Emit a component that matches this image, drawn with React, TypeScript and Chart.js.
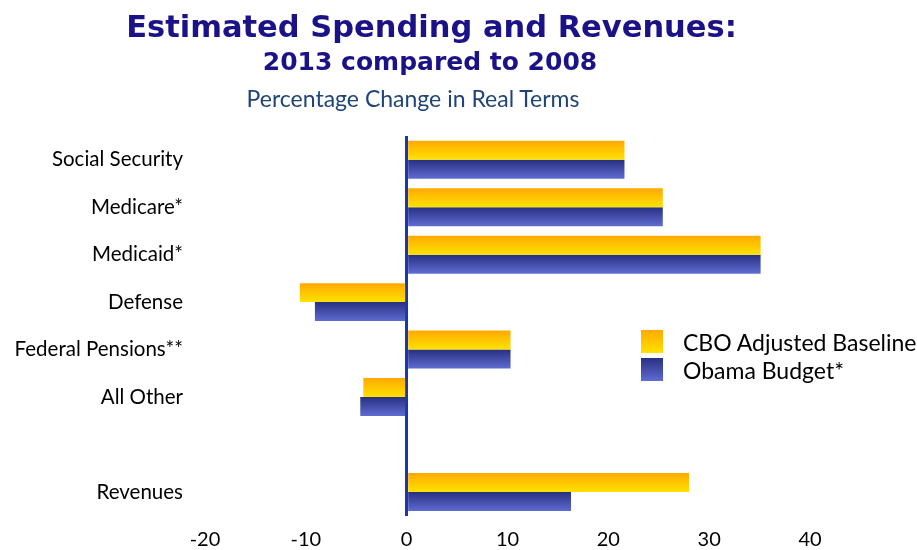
import React, { useEffect, useRef } from "react";
import { Chart, registerables } from "chart.js";

Chart.register(...registerables);

const categories = [
  "Social Security",
  "Medicare*",
  "Medicaid*",
  "Defense",
  "Federal Pensions**",
  "All Other",
  "",
  "Revenues",
];
const cboBaseline = [21.6, 25.4, 35.1, -10.6, 10.3, -4.3, null, 28.0];
const obamaBudget = [21.6, 25.4, 35.1, -9.1, 10.3, -4.6, null, 16.3];
const xTicks = [-20, -10, 0, 10, 20, 30, 40];
const seriesNames = ["CBO Adjusted Baseline", "Obama Budget*"];

const yellowStops = ["#FFA900", "#FFE200"];
const blueStops = ["#283080", "#5F6CD2"];

const gradientPlugin = {
  id: "barGradient",
  beforeDatasetsDraw(chart: any) {
    const ctx = chart.ctx;
    chart.data.datasets.forEach((ds: any, di: number) => {
      const meta = chart.getDatasetMeta(di);
      const stops = di === 0 ? yellowStops : blueStops;
      meta.data.forEach((el: any) => {
        if (el.height == null || isNaN(el.y)) return;
        const top = el.y - el.height / 2;
        const bottom = el.y + el.height / 2;
        const g = ctx.createLinearGradient(0, top, 0, bottom);
        g.addColorStop(0, stops[0]);
        g.addColorStop(1, stops[1]);
        el.options = Object.assign({}, el.options, { backgroundColor: g });
      });
    });
  },
};

export default function App() {
  const ref = useRef<HTMLCanvasElement>(null);
  useEffect(() => {
    if (!ref.current) return;
    const chart = new Chart(ref.current, {
      type: "bar",
      data: {
        labels: categories,
        datasets: [
          { label: seriesNames[0], data: cboBaseline, backgroundColor: yellowStops[1], categoryPercentage: 0.8, barPercentage: 1.0 },
          { label: seriesNames[1], data: obamaBudget, backgroundColor: blueStops[1], categoryPercentage: 0.8, barPercentage: 1.0 },
        ],
      },
      options: {
        indexAxis: "y",
        animation: false,
        responsive: false,
        maintainAspectRatio: false,
        layout: { padding: { top: 136, right: 107, left: 0, bottom: 0 } },
        plugins: { legend: { display: false }, title: { display: false }, tooltip: { enabled: false } },
        scales: {
          x: {
            min: -20,
            max: 40,
            afterBuildTicks: (s: any) => {
              s.ticks = xTicks.map((v) => ({ value: v }));
            },
            afterFit: (s: any) => {
              s.height = 32;
            },
            border: { display: false },
            grid: {
              drawTicks: false,
              color: (c: any) => (c.tick && c.tick.value === 0 ? "#1A38AC" : "rgba(0,0,0,0)"),
              lineWidth: (c: any) => (c.tick && c.tick.value === 0 ? 3 : 0),
            },
            ticks: {
              color: "#000",
              padding: 12,
              font: { family: "Lato", size: 20 },
            },
          },
          y: {
            afterFit: (s: any) => {
              s.width = 205;
            },
            border: { display: false },
            grid: { display: false, drawTicks: false },
            ticks: {
              color: "#000",
              padding: 22,
              font: { family: "Lato", size: 20.5 },
            },
          },
        },
      },
      plugins: [gradientPlugin],
    });
    return () => chart.destroy();
  }, []);

  const sq = (stops: string[]) => ({
    position: "absolute" as const,
    width: 22,
    height: 23,
    background: `linear-gradient(to bottom, ${stops[0]}, ${stops[1]})`,
  });

  return (
    <div style={{ position: "absolute", left: 0, top: 0, width: 917, height: 550, background: "#fff", fontFamily: "Lato" }}>
      <canvas ref={ref} width={917} height={550} style={{ position: "absolute", left: 0, top: 0, width: 917, height: 550 }} />
      <div style={{ position: "absolute", left: 0, width: 863, top: 7, textAlign: "center", fontFamily: "'DejaVu Sans'", fontWeight: "bold", fontSize: 30.5, color: "#1C1288", lineHeight: "40px", whiteSpace: "nowrap" }}>
        Estimated Spending and Revenues:
      </div>
      <div style={{ position: "absolute", left: 0, width: 860, top: 46, textAlign: "center", fontFamily: "'DejaVu Sans'", fontWeight: "bold", fontSize: 25, color: "#1C1288", lineHeight: "32px", whiteSpace: "nowrap" }}>
        2013 compared to 2008
      </div>
      <div style={{ position: "absolute", left: 0, width: 826, top: 83, textAlign: "center", fontFamily: "Lato", fontSize: 23, color: "#1F4478", lineHeight: "30px", whiteSpace: "nowrap" }}>
        Percentage Change in Real Terms
      </div>
      <div style={{ ...sq(yellowStops), left: 641, top: 330 }} />
      <div style={{ ...sq(blueStops), left: 641, top: 358 }} />
      <div style={{ position: "absolute", left: 683, top: 327, fontSize: 23, color: "#000", lineHeight: "30px", whiteSpace: "nowrap" }}>
        {seriesNames[0]}
      </div>
      <div style={{ position: "absolute", left: 683, top: 355, fontSize: 23, color: "#000", lineHeight: "30px", whiteSpace: "nowrap" }}>
        {seriesNames[1]}
      </div>
    </div>
  );
}
